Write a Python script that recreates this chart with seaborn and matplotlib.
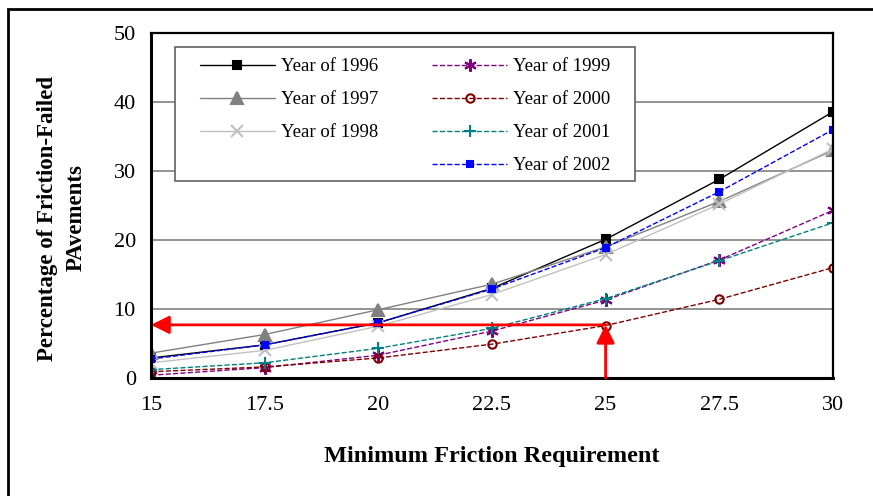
import numpy as np
import pandas as pd
import matplotlib
matplotlib.use("Agg")
import matplotlib.pyplot as plt
from matplotlib.lines import Line2D
from matplotlib.patches import Rectangle
import seaborn as sns

# data
friction = [15, 17.5, 20, 22.5, 25, 27.5, 30]
y1996 = [2.9, 4.8, 8.0, 13.0, 20.1, 28.8, 38.6]
y1997 = [3.6, 6.3, 9.9, 13.6, 19.0, 25.6, 33.0]
y1998 = [2.2, 4.0, 7.5, 12.1, 17.9, 25.2, 33.2]
y1999 = [0.4, 1.5, 3.3, 6.8, 11.3, 17.1, 24.3]
y2000 = [0.9, 1.6, 2.9, 4.9, 7.6, 11.4, 16.0]
y2001 = [1.2, 2.2, 4.3, 7.2, 11.5, 17.0, 22.5]
y2002 = [2.75, 4.8, 8.0, 12.9, 18.9, 27.0, 36.0]
years = ["1996", "1997", "1998", "1999", "2000", "2001", "2002"]
target_friction = 25
target_pct = 7.7

df = pd.DataFrame({"friction": friction, "1996": y1996, "1997": y1997, "1998": y1998,
                   "1999": y1999, "2000": y2000, "2001": y2001, "2002": y2002})
long = df.melt(id_vars="friction", var_name="year", value_name="pct")

styles = {
    "1996": dict(color="black", ls="-", marker="s", ms=6, mfc="black"),
    "1997": dict(color="#808080", ls="-", marker="^", ms=8, mfc="#808080"),
    "1998": dict(color="#c0c0c0", ls="-", marker="x", ms=8, mfc="#c0c0c0"),
    "1999": dict(color="#800080", ls="--", marker=(6, 2, 0), ms=9, mfc="#800080"),
    "2000": dict(color="#800000", ls="--", marker="o", ms=6, mfc="none"),
    "2001": dict(color="#008080", ls="--", marker="+", ms=9, mfc="#008080"),
    "2002": dict(color="#0000ff", ls="--", marker="s", ms=4, mfc="#0000ff"),
}

sns.set_style("white")
plt.rcParams["font.family"] = ["Liberation Serif", "DejaVu Serif"]
plt.rcParams["text.color"] = "black"
plt.rcParams["axes.labelcolor"] = "black"

fig = plt.figure(figsize=(8.73, 4.96), dpi=100)
ax = fig.add_axes([0.173, 0.238, 0.781, 0.695])

# outer frame of the figure (cropped on right and bottom)
fig.patches.append(Rectangle((8 / 873, -0.1), 1.2, 1 - 9 / 496 + 0.1, transform=fig.transFigure,
                             fill=False, ec="black", lw=2.0, zorder=0))

for yr in [10, 20, 30, 40]:
    ax.axhline(yr, color="#808080", lw=1.2, zorder=0)

handles = []
for yr in years:
    st = styles[yr]
    sub = long[long["year"] == yr]
    sns.lineplot(data=sub, x="friction", y="pct", ax=ax, color=st["color"], lw=1.0,
                 linestyle=st["ls"], dashes=False, marker=st["marker"], markersize=st["ms"],
                 markerfacecolor=st["mfc"], markeredgecolor=st["color"], markeredgewidth=1.5)
    ax.lines[-1].set_linestyle(st["ls"])
    handles.append(Line2D([], [], color=st["color"], ls=st["ls"], lw=1.0, marker=st["marker"],
                          ms=st["ms"], mfc=st["mfc"], mec=st["color"], mew=1.5,
                          label="Year of " + yr))

# red arrows marking the example read-off
arrow_style = "-|>,head_length=1.1,head_width=0.55"
ax.annotate("", xy=(friction[0], target_pct), xytext=(target_friction, target_pct),
            arrowprops=dict(arrowstyle=arrow_style, color="red",
                            lw=2, shrinkA=0, shrinkB=0), zorder=5)
ax.annotate("", xy=(target_friction, target_pct), xytext=(target_friction, 0),
            arrowprops=dict(arrowstyle=arrow_style, color="red",
                            lw=2, shrinkA=0, shrinkB=0), zorder=5)

# legend box drawn separately so the inner padding can differ per direction
ax.add_patch(Rectangle((0.035, 0.571), 0.675, 0.388, transform=ax.transAxes, fill=True,
                       fc="white", ec="#606060", lw=1.2, zorder=6))
blank = Line2D([], [], color="none", label=" ")
leg_handles = handles[:3] + [blank] + handles[3:]
leg = ax.legend(handles=leg_handles, ncol=2, loc="upper left",
                bbox_to_anchor=(0.0718, 0.928), borderaxespad=0,
                fontsize=13.5, handlelength=4.0, handletextpad=0.3, labelspacing=0.85,
                columnspacing=2.9, frameon=False, borderpad=0)
leg.set_zorder(7)

ax.set_xlim(15, 30)
ax.set_ylim(0, 50)
ax.set_xticks(friction)
ax.set_xticklabels(["15", "17.5", "20", "22.5", "25", "27.5", "30"])
ax.set_yticks([0, 10, 20, 30, 40, 50])
ax.tick_params(axis="both", direction="out", length=5, width=1, labelsize=16, colors="black")
ax.tick_params(axis="x", pad=8)
ax.tick_params(axis="y", pad=6)

for side in ["left", "bottom"]:
    ax.spines[side].set_linewidth(2.2)
for side in ["top", "right"]:
    ax.spines[side].set_linewidth(1.6)
for sp in ax.spines.values():
    sp.set_color("black")
    sp.set_visible(True)

ax.set_xlabel("Minimum Friction Requirement", fontsize=17.5, fontweight="bold", labelpad=22)
ax.set_ylabel("Percentage of Friction-Failed\nPAvements", fontsize=16.5, fontweight="bold",
              linespacing=1.45)
ax.yaxis.set_label_coords(-0.095, 0.464)

fig.savefig("out.png", dpi=100)
